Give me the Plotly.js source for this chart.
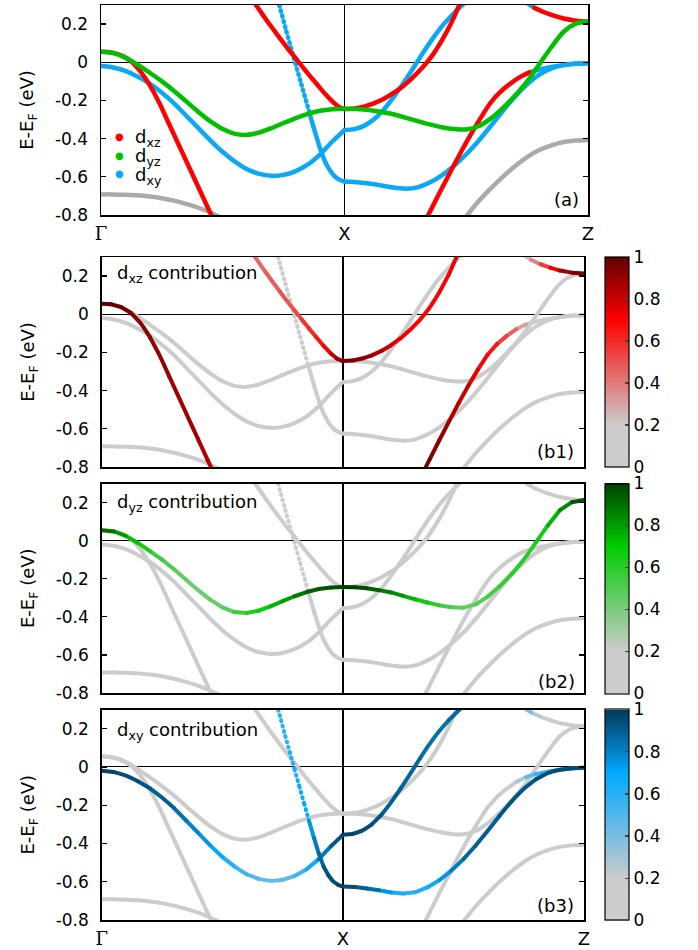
<!DOCTYPE html>
<html><head><meta charset="utf-8">
<script src="https://cdn.plot.ly/plotly-3.0.1.min.js"></script>
<style>html,body{margin:0;padding:0;background:#fff}#chart{width:698px;height:950px}.js-line{stroke-linecap:round}</style>
</head><body><div id="chart"></div><script>
// ---------- tick labels / texts ----------
const K_TICKS = [0, 1, 2];
const K_LABELS = ['<span style="font-family:\'DejaVu Serif\'">Γ</span>', 'X', 'Z'];
const E_TICKS = [-0.8, -0.6, -0.4, -0.2, 0, 0.2];
const E_LABELS = ['-0.8', '-0.6', '-0.4', '-0.2', '0', '0.2'];
const CB_TICKS = [0, 0.2, 0.4, 0.6, 0.8, 1];
const CB_LABELS = ['0', '0.2', '0.4', '0.6', '0.8', '1'];
const ORBITALS = ['d<sub>xz</sub>', 'd<sub>yz</sub>', 'd<sub>xy</sub>'];
const PANEL_TAGS = ['(a)', '(b1)', '(b2)', '(b3)'];
const Y_TITLE = 'E-E<sub>F</sub> (eV)';

// ---------- band data: k (path coordinate, Γ=0, X=1, Z=2), E (eV), orbital weights ----------
// steep dxz band from Γ
const R1_k = [0, 0.04, 0.08, 0.12, 0.16, 0.20, 0.24, 0.28, 0.32, 0.36, 0.40, 0.44, 0.48];
const R1_E = [0.055, 0.052, 0.038, 0.008, -0.045, -0.120, -0.215, -0.325, -0.435, -0.545, -0.655, -0.765, -0.875];
const R1_wxz = [1.0, 0.98, 0.96, 0.94, 0.92, 0.91, 0.9, 0.89, 0.88, 0.87, 0.86, 0.84, 0.82];
const R1_wyz = [0.02, 0.02, 0.02, 0.02, 0.02, 0.02, 0.02, 0.02, 0.02, 0.02, 0.02, 0.02, 0.02];
const R1_wxy = [0.02, 0.02, 0.02, 0.02, 0.02, 0.02, 0.02, 0.02, 0.02, 0.02, 0.02, 0.02, 0.02];

// dyz band Γ-X-Z
const G_k = [0, 0.05, 0.10, 0.15, 0.20, 0.25, 0.30, 0.35, 0.40, 0.45, 0.50, 0.55, 0.60, 0.65, 0.70, 0.75, 0.80, 0.85, 0.90, 0.95, 1.0,
  1.05, 1.10, 1.15, 1.20, 1.25, 1.30, 1.35, 1.40, 1.45, 1.50, 1.55, 1.60, 1.65, 1.70, 1.75, 1.80, 1.85, 1.90, 1.95, 2.0];
const G_E = [0.055, 0.048, 0.025, -0.012, -0.055, -0.100, -0.150, -0.205, -0.260, -0.310, -0.350, -0.375, -0.380, -0.368, -0.345, -0.318, -0.292, -0.270, -0.254, -0.246, -0.243,
  -0.245, -0.250, -0.260, -0.272, -0.290, -0.308, -0.325, -0.340, -0.350, -0.352, -0.335, -0.295, -0.240, -0.175, -0.100, -0.010, 0.080, 0.160, 0.202, 0.213];
const G_wyz = [0.95, 0.85, 0.75, 0.68, 0.6, 0.52, 0.47, 0.43, 0.42, 0.43, 0.45, 0.5, 0.58, 0.65, 0.72, 0.78, 0.84, 0.9, 0.94, 0.97, 1.0,
  0.98, 0.95, 0.9, 0.85, 0.8, 0.72, 0.65, 0.55, 0.48, 0.45, 0.47, 0.52, 0.55, 0.58, 0.6, 0.62, 0.68, 0.8, 0.92, 1.0];
const G_wxz = [0.05, 0.05, 0.05, 0.05, 0.05, 0.05, 0.05, 0.05, 0.05, 0.05, 0.05, 0.05, 0.05, 0.05, 0.05, 0.05, 0.05, 0.05, 0.05, 0.05, 0.05,
  0.05, 0.05, 0.05, 0.05, 0.05, 0.05, 0.05, 0.05, 0.05, 0.05, 0.05, 0.05, 0.05, 0.05, 0.05, 0.05, 0.05, 0.05, 0.05, 0.05];
const G_wxy = [0.05, 0.05, 0.05, 0.05, 0.05, 0.05, 0.05, 0.05, 0.05, 0.05, 0.05, 0.05, 0.05, 0.05, 0.05, 0.05, 0.05, 0.05, 0.05, 0.05, 0.05,
  0.05, 0.05, 0.05, 0.05, 0.05, 0.05, 0.05, 0.05, 0.05, 0.05, 0.05, 0.05, 0.05, 0.05, 0.05, 0.05, 0.05, 0.05, 0.05, 0.05];

// dxy band Γ-X (lower, from -0.02)
const B_k = [0, 0.05, 0.10, 0.15, 0.20, 0.25, 0.30, 0.35, 0.40, 0.45, 0.50, 0.55, 0.60, 0.65, 0.70, 0.75, 0.80, 0.85, 0.90, 0.95, 1.0];
const B_E = [-0.020, -0.027, -0.045, -0.075, -0.112, -0.160, -0.215, -0.280, -0.345, -0.410, -0.470, -0.520, -0.560, -0.585, -0.595, -0.590, -0.570, -0.535, -0.482, -0.415, -0.355];
const B_wxy = [0.97, 0.96, 0.95, 0.93, 0.92, 0.9, 0.88, 0.84, 0.78, 0.72, 0.66, 0.6, 0.52, 0.46, 0.44, 0.45, 0.5, 0.6, 0.75, 0.88, 0.97];
const B_wxz = [0.05, 0.05, 0.05, 0.05, 0.05, 0.05, 0.05, 0.05, 0.05, 0.05, 0.05, 0.05, 0.05, 0.05, 0.05, 0.05, 0.05, 0.05, 0.05, 0.05, 0.05];
const B_wyz = [0.05, 0.05, 0.05, 0.05, 0.05, 0.05, 0.05, 0.05, 0.05, 0.05, 0.05, 0.05, 0.05, 0.05, 0.05, 0.05, 0.05, 0.05, 0.05, 0.05, 0.05];

// steep dxy band near X
const C_k = [0.72, 0.74, 0.76, 0.78, 0.80, 0.82, 0.84, 0.86, 0.88, 0.90, 0.92, 0.94, 0.96, 0.98, 1.0];
const C_E = [0.355, 0.262, 0.168, 0.077, -0.013, -0.103, -0.193, -0.283, -0.370, -0.452, -0.520, -0.566, -0.598, -0.616, -0.625];
const C_wxy = [0.6, 0.6, 0.6, 0.62, 0.64, 0.66, 0.68, 0.72, 0.78, 0.85, 0.9, 0.93, 0.95, 0.96, 0.97];
const C_wxz = [0.15, 0.15, 0.15, 0.15, 0.15, 0.15, 0.15, 0.15, 0.12, 0.1, 0.08, 0.05, 0.05, 0.05, 0.05];
const C_wyz = [0.1, 0.1, 0.1, 0.1, 0.1, 0.1, 0.1, 0.1, 0.08, 0.06, 0.05, 0.05, 0.05, 0.05, 0.05];

// dxz band coming down into X
const RU_k = [0.62, 0.65, 0.68, 0.71, 0.74, 0.77, 0.80, 0.83, 0.86, 0.89, 0.92, 0.95, 0.975, 1.0];
const RU_E = [0.33, 0.275, 0.220, 0.168, 0.117, 0.067, 0.020, -0.028, -0.075, -0.120, -0.165, -0.205, -0.232, -0.245];
const RU_wxz = [0.45, 0.45, 0.46, 0.47, 0.48, 0.5, 0.52, 0.55, 0.58, 0.62, 0.67, 0.74, 0.85, 0.97];
const RU_wyz = [0.1, 0.1, 0.1, 0.1, 0.1, 0.1, 0.1, 0.1, 0.1, 0.1, 0.08, 0.06, 0.04, 0.02];
const RU_wxy = [0.12, 0.12, 0.12, 0.12, 0.12, 0.12, 0.12, 0.12, 0.12, 0.1, 0.08, 0.06, 0.04, 0.02];

// dxz band leaving X upward
const RX_k = [1.0, 1.04, 1.08, 1.12, 1.16, 1.20, 1.24, 1.28, 1.32, 1.36, 1.40, 1.44, 1.48];
const RX_E = [-0.245, -0.242, -0.232, -0.215, -0.192, -0.162, -0.125, -0.080, -0.028, 0.035, 0.115, 0.210, 0.325];
const RX_wxz = [0.97, 0.95, 0.92, 0.88, 0.83, 0.78, 0.74, 0.71, 0.7, 0.7, 0.7, 0.72, 0.72];
const RX_wyz = [0.03, 0.05, 0.08, 0.08, 0.08, 0.08, 0.08, 0.08, 0.08, 0.08, 0.08, 0.08, 0.08];
const RX_wxy = [0.03, 0.05, 0.08, 0.08, 0.08, 0.08, 0.08, 0.08, 0.08, 0.08, 0.08, 0.08, 0.08];

// dxy band leaving X upward (from -0.35)
const BU_k = [1.0, 1.04, 1.08, 1.12, 1.16, 1.20, 1.24, 1.28, 1.32, 1.36, 1.40, 1.44, 1.48, 1.52];
const BU_E = [-0.355, -0.350, -0.333, -0.300, -0.250, -0.185, -0.112, -0.035, 0.045, 0.120, 0.188, 0.245, 0.295, 0.340];
const BU_wxy = [0.97, 0.96, 0.95, 0.94, 0.92, 0.9, 0.88, 0.87, 0.86, 0.86, 0.86, 0.86, 0.87, 0.87];
const BU_wxz = [0.05, 0.05, 0.05, 0.05, 0.05, 0.05, 0.05, 0.05, 0.05, 0.05, 0.05, 0.05, 0.05, 0.05];
const BU_wyz = [0.05, 0.05, 0.05, 0.05, 0.05, 0.05, 0.05, 0.05, 0.05, 0.05, 0.05, 0.05, 0.05, 0.05];

// dxy band X-Z (from -0.625)
const BL_k = [1.0, 1.05, 1.10, 1.15, 1.20, 1.25, 1.30, 1.35, 1.40, 1.45, 1.50, 1.55, 1.60, 1.65, 1.70, 1.75, 1.80, 1.85, 1.90, 1.95, 2.0];
const BL_E = [-0.625, -0.628, -0.635, -0.645, -0.656, -0.662, -0.655, -0.630, -0.592, -0.542, -0.482, -0.412, -0.335, -0.255, -0.180, -0.115, -0.065, -0.032, -0.015, -0.007, -0.005];
const BL_wxy = [0.96, 0.93, 0.88, 0.8, 0.7, 0.62, 0.6, 0.63, 0.7, 0.78, 0.85, 0.88, 0.9, 0.92, 0.93, 0.93, 0.94, 0.95, 0.95, 0.96, 0.96];
const BL_wxz = [0.05, 0.05, 0.05, 0.05, 0.05, 0.05, 0.05, 0.05, 0.05, 0.05, 0.05, 0.05, 0.05, 0.05, 0.05, 0.05, 0.05, 0.05, 0.05, 0.05, 0.05];
const BL_wyz = [0.05, 0.05, 0.05, 0.05, 0.05, 0.05, 0.05, 0.05, 0.05, 0.05, 0.05, 0.05, 0.05, 0.05, 0.05, 0.05, 0.05, 0.05, 0.05, 0.05, 0.05];

// steep dxz band X-Z, turning dxy near Z
const RS_k = [1.32, 1.36, 1.40, 1.44, 1.48, 1.52, 1.56, 1.60, 1.64, 1.68, 1.72, 1.76, 1.80, 1.85, 1.90, 1.95, 2.0];
const RS_E = [-0.86, -0.76, -0.66, -0.562, -0.466, -0.375, -0.29, -0.212, -0.155, -0.113, -0.078, -0.053, -0.038, -0.025, -0.015, -0.008, -0.005];
const RS_wxz = [0.96, 0.94, 0.92, 0.88, 0.84, 0.78, 0.73, 0.68, 0.6, 0.5, 0.38, 0.24, 0.15, 0.12, 0.1, 0.1, 0.1];
const RS_wyz = [0.02, 0.02, 0.02, 0.02, 0.02, 0.02, 0.02, 0.02, 0.02, 0.02, 0.02, 0.02, 0.02, 0.02, 0.02, 0.02, 0.02];
const RS_wxy = [0.03, 0.03, 0.03, 0.03, 0.03, 0.03, 0.03, 0.03, 0.05, 0.08, 0.15, 0.4, 0.55, 0.6, 0.65, 0.68, 0.7];

// top-right band ending at Z (0.213)
const TR_k = [1.72, 1.75, 1.78, 1.82, 1.86, 1.90, 1.95, 2.0];
const TR_E = [0.34, 0.31, 0.285, 0.262, 0.244, 0.229, 0.218, 0.213];
const TR_wxz = [0.1, 0.15, 0.3, 0.45, 0.65, 0.82, 0.93, 0.97];
const TR_wyz = [0.02, 0.02, 0.02, 0.02, 0.02, 0.02, 0.02, 0.02];
const TR_wxy = [0.5, 0.5, 0.3, 0.2, 0.1, 0.05, 0.05, 0.05];

// other (non t2g) bands
const GL1_k = [0, 0.05, 0.10, 0.15, 0.20, 0.25, 0.30, 0.35, 0.40, 0.45, 0.50];
const GL1_E = [-0.692, -0.692, -0.694, -0.697, -0.703, -0.712, -0.725, -0.742, -0.762, -0.787, -0.818];
const GL1_w = [0.02, 0.02, 0.02, 0.02, 0.02, 0.02, 0.02, 0.02, 0.02, 0.02, 0.02];
const GL2_k = [1.48, 1.52, 1.56, 1.60, 1.65, 1.70, 1.75, 1.80, 1.85, 1.90, 1.95, 2.0];
const GL2_E = [-0.84, -0.775, -0.715, -0.662, -0.600, -0.545, -0.497, -0.460, -0.435, -0.418, -0.410, -0.407];
const GL2_w = [0.02, 0.02, 0.02, 0.02, 0.02, 0.02, 0.02, 0.02, 0.02, 0.02, 0.02, 0.02];

const BANDS = [
  {k: GL1_k, E: GL1_E, w: [GL1_w, GL1_w, GL1_w]},
  {k: GL2_k, E: GL2_E, w: [GL2_w, GL2_w, GL2_w]},
  {k: R1_k, E: R1_E, w: [R1_wxz, R1_wyz, R1_wxy]},
  {k: B_k, E: B_E, w: [B_wxz, B_wyz, B_wxy]},
  {k: C_k, E: C_E, w: [C_wxz, C_wyz, C_wxy], dotUntil: 0.86},
  {k: RU_k, E: RU_E, w: [RU_wxz, RU_wyz, RU_wxy]},
  {k: RX_k, E: RX_E, w: [RX_wxz, RX_wyz, RX_wxy]},
  {k: BU_k, E: BU_E, w: [BU_wxz, BU_wyz, BU_wxy]},
  {k: RS_k, E: RS_E, w: [RS_wxz, RS_wyz, RS_wxy]},
  {k: BL_k, E: BL_E, w: [BL_wxz, BL_wyz, BL_wxy]},
  {k: TR_k, E: TR_E, w: [TR_wxz, TR_wyz, TR_wxy]},
  {k: G_k, E: G_E, w: [G_wxz, G_wyz, G_wxy]}
];

// ---------- styles ----------
const FONT = 'DejaVu Sans, sans-serif';
const W = 698, H = 950;
const SCALES = [
  [[0, '#cccccc'], [0.2, '#cccccc'], [0.7, '#ff0000'], [1, '#600000']],
  [[0, '#cccccc'], [0.2, '#cccccc'], [0.7, '#00cc00'], [1, '#004000']],
  [[0, '#cccccc'], [0.2, '#cccccc'], [0.7, '#00aaff'], [1, '#033a5c']]
];
const A_COLORS = ['#ff0000', '#00c000', '#0aa8f5'];
const A_GRAY = '#aaaaaa';
const PANELS = [
  {xa: 'x', ya: 'y', xd: [101, 588], yd: [5, 215], tag: [581, 199.5]},
  {xa: 'x2', ya: 'y2', xd: [101.7, 584], yd: [257, 467], tag: [576, 451.5], orb: 0, lab: [115, 274]},
  {xa: 'x3', ya: 'y3', xd: [101.7, 584], yd: [483.5, 693], tag: [577, 681], orb: 1, lab: [115, 503]},
  {xa: 'x4', ya: 'y4', xd: [101.7, 584], yd: [709.5, 920], tag: [576, 905], orb: 2, lab: [115, 731]}
];
// legend rows of panel (a): dot centre x, text left x, row centre y (pixels)
const LEG_DOT_X = 119.5, LEG_TEXT_X = 133, LEG_ROWS_Y = [136, 155, 174];

function hexToRgb(h) { return [parseInt(h.slice(1, 3), 16), parseInt(h.slice(3, 5), 16), parseInt(h.slice(5, 7), 16)]; }
function scaleColor(sc, w) {
  w = Math.max(0, Math.min(1, w));
  for (let i = 1; i < sc.length; i++) {
    if (w <= sc[i][0]) {
      const a = sc[i - 1], b = sc[i];
      const t = (w - a[0]) / ((b[0] - a[0]) || 1);
      const ca = hexToRgb(a[1]), cb = hexToRgb(b[1]);
      return 'rgb(' + ca.map((v, j) => Math.round(v + (cb[j] - v) * t)).join(',') + ')';
    }
  }
  return sc[sc.length - 1][1];
}

function buildPanel(p, idx) {
  const groups = {};
  BANDS.forEach(b => {
    let run = null, runKey = null;
    const flush = () => { if (run) { const g = groups[runKey]; g.x.push(...run.x, null); g.y.push(...run.y, null); } };
    for (let i = 0; i < b.k.length - 1; i++) {
      const w = [0, 1, 2].map(o => (b.w[o][i] + b.w[o][i + 1]) / 2);
      const dotted = b.dotUntil !== undefined && b.k[i + 1] <= b.dotUntil + 1e-9;
      let key, color, order;
      if (idx === 0) {
        const m = Math.max(...w), o = w.indexOf(m);
        if (m < 0.3) { key = 'g'; color = A_GRAY; order = 0; }
        else { key = 'o' + o; color = A_COLORS[o]; order = [2, 3, 1][o]; }
      } else {
        const q = Math.round(w[p.orb] * 40) / 40;
        key = 'q' + q; color = scaleColor(SCALES[p.orb], q); order = q;
      }
      key += dotted ? 'd' : 's';
      if (!groups[key]) groups[key] = {x: [], y: [], color, order, dotted};
      if (key !== runKey) { flush(); run = {x: [b.k[i]], y: [b.E[i]]}; runKey = key; }
      run.x.push(b.k[i + 1]); run.y.push(b.E[i + 1]);
    }
    flush();
  });
  return Object.values(groups).sort((a, b) => a.order - b.order).map(g => ({
    type: 'scatter', mode: 'lines', x: g.x, y: g.y, xaxis: p.xa, yaxis: p.ya,
    hoverinfo: 'skip', showlegend: false, connectgaps: false,
    line: {color: g.color, width: idx === 0 ? 4.5 : 4, shape: 'spline', smoothing: 0.8, dash: g.dotted ? '1px,4.5px' : 'solid'}
  }));
}

let traces = [];
PANELS.forEach((p, i) => { traces = traces.concat(buildPanel(p, i)); });

// colorbars for panels b1-b3
PANELS.slice(1).forEach(p => {
  traces.push({type: 'scatter', mode: 'markers', x: [null], y: [null], xaxis: p.xa, yaxis: p.ya,
    showlegend: false, hoverinfo: 'skip',
    marker: {color: [0], cmin: 0, cmax: 1, colorscale: SCALES[p.orb], showscale: true,
      colorbar: {x: 605 / W, xanchor: 'left', xpad: 0, ypad: 0, y: 1 - p.yd[0] / H, yanchor: 'top',
        len: (p.yd[1] - p.yd[0]) / H, lenmode: 'fraction', thickness: 24, thicknessmode: 'pixels',
        outlinewidth: 1.2, outlinecolor: '#000', tickmode: 'array', tickvals: CB_TICKS, ticktext: CB_LABELS,
        ticks: 'inside', ticklen: 4, tickwidth: 1.2, tickcolor: '#444', tickfont: {size: 17, family: FONT, color: '#000'}}}
  });
});

const layout = {
  width: W, height: H, margin: {l: 0, r: 0, t: 0, b: 0}, paper_bgcolor: '#fff', plot_bgcolor: 'rgba(0,0,0,0)',
  font: {family: FONT, size: 17, color: '#000'},
  showlegend: false,
  annotations: []
};
PANELS.forEach((p, i) => {
  const sx = i === 0 ? '' : String(i + 1);
  layout['xaxis' + sx] = {
    domain: [p.xd[0] / W, p.xd[1] / W], anchor: p.ya, range: [0, 2],
    tickmode: 'array', tickvals: K_TICKS, ticktext: K_LABELS, showticklabels: i === 0 || i === 3,
    ticks: '', showgrid: true, gridcolor: '#000', gridwidth: 1.5, zeroline: false,
    showline: true, mirror: true, linecolor: '#000', linewidth: 1.5,
    tickfont: {size: 18, family: FONT}, ticklabelstandoff: 2, fixedrange: true
  };
  layout['yaxis' + sx] = {
    domain: [1 - p.yd[1] / H, 1 - p.yd[0] / H], anchor: p.xa, range: [-0.8, 0.3],
    tickmode: 'array', tickvals: E_TICKS, ticktext: E_LABELS,
    ticks: 'inside', ticklen: 5, tickwidth: 1.2, tickcolor: '#000', mirror: 'ticks',
    showline: true, linecolor: '#000', linewidth: 1.5, showgrid: false,
    zeroline: true, zerolinecolor: '#000', zerolinewidth: 1,
    tickfont: {size: 17, family: FONT}, ticklabelstandoff: 8, fixedrange: true,
    title: {text: Y_TITLE, font: {size: 18, family: FONT}, standoff: 16}
  };
  layout.annotations.push({xref: 'paper', yref: 'paper', x: p.tag[0] / W, y: 1 - p.tag[1] / H,
    xanchor: 'right', yanchor: 'middle', text: PANEL_TAGS[i], showarrow: false, font: {size: 18, family: FONT}});
  if (p.lab) {
    layout.annotations.push({xref: 'paper', yref: 'paper', x: p.lab[0] / W, y: 1 - p.lab[1] / H,
      xanchor: 'left', yanchor: 'middle', text: ORBITALS[p.orb] + ' contribution', showarrow: false,
      font: {size: 18, family: FONT}});
  }
});
// key of panel (a)
ORBITALS.forEach((name, o) => {
  layout.annotations.push({xref: 'paper', yref: 'paper', x: LEG_DOT_X / W, y: 1 - LEG_ROWS_Y[o] / H,
    xanchor: 'center', yanchor: 'middle', text: '●', showarrow: false,
    font: {size: 10, family: FONT, color: A_COLORS[o]}});
  layout.annotations.push({xref: 'paper', yref: 'paper', x: LEG_TEXT_X / W, y: 1 - (LEG_ROWS_Y[o] + 2.5) / H,
    xanchor: 'left', yanchor: 'middle', text: name, showarrow: false,
    font: {size: 18, family: FONT}});
});

Plotly.newPlot('chart', traces, layout, {staticPlot: true, displayModeBar: false});
</script></body></html>
